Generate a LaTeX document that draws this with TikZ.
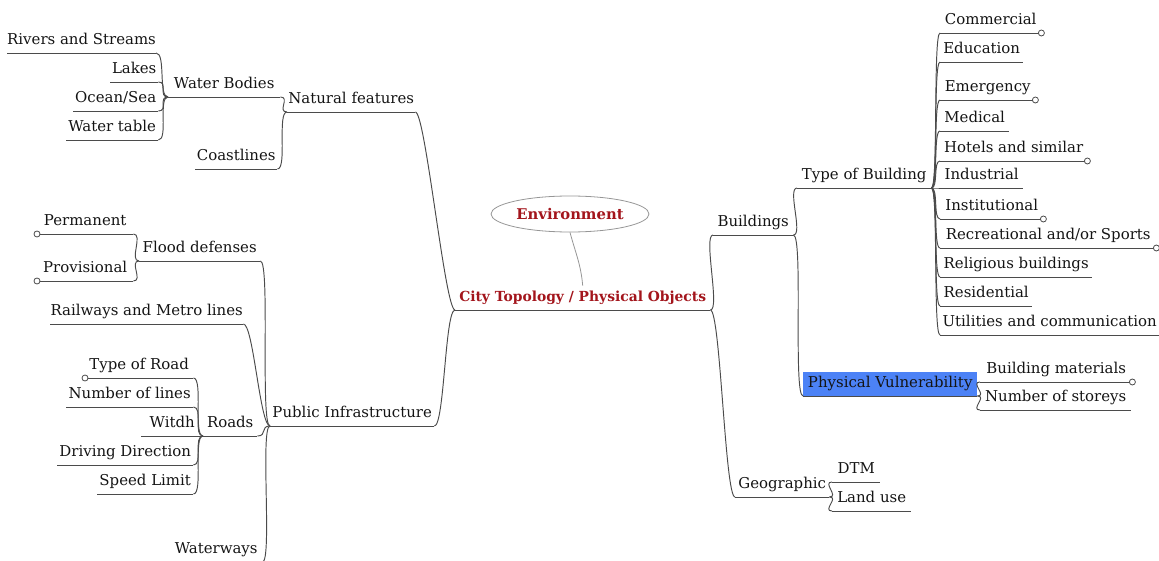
\documentclass[tikz,border=0pt]{standalone}
\usepackage{fontspec}
\setmainfont{DejaVu Serif}
\newfontfamily\mapfont{DejaVu Serif}[Scale=0.83]
\usetikzlibrary{shapes.geometric}
\definecolor{linec}{RGB}{75,75,75}
\definecolor{txtc}{RGB}{20,20,20}
\definecolor{redc}{RGB}{163,21,28}
\definecolor{bluec}{RGB}{76,130,246}
\definecolor{envc}{RGB}{150,150,150}
\begin{document}
\begin{tikzpicture}[x=1pt,y=-1pt,
  every node/.style={font=\mapfont\fontsize{18}{20}\selectfont, text=txtc},
  item/.style={anchor=south west, inner xsep=0pt, inner ysep=3pt, text height=13pt, text depth=5pt, minimum width=#1,
    append after command={(\tikzlastnode.south west) edge[draw=linec,line width=0.95pt] (\tikzlastnode.south east)}},
  dot/.style={circle, draw=linec, fill=white, line width=0.8pt, inner sep=0pt, minimum size=6pt},
  dotE/.style={append after command={(\tikzlastnode.south east) node[dot]{}}},
  dotW/.style={append after command={(\tikzlastnode.south west) node[dot]{}}},
  conn/.style={draw=linec, line width=0.95pt, to path={.. controls +(#1,0) and +(-#1,0) .. (\tikztotarget)}},
  conn/.default=10
]
\useasboundingbox (0,0) rectangle (1159,561);

% centre
\node[item=255, font=\mapfont\bfseries\fontsize{16.7}{20}\selectfont, text=redc] (center) at (455,310) {City Topology / Physical Objects};
\node[ellipse, draw=envc, line width=0.8pt, minimum width=158, minimum height=36, inner sep=0pt,
      font=\mapfont\bfseries\fontsize{17.8}{20}\selectfont, text=redc] (env) at (570,214) {Environment};
\draw[envc, line width=0.8pt] (env.south) to[out=-75,in=95] (center.north);

% left: natural features
\node[item=128] (nat) at (287,112) {Natural features};
\node[item=112] (wb) at (168,97) {Water Bodies};
\node[item=82] (coast) at (195,169) {Coastlines};
\node[item=148] (rivers) at (7,53) {Rivers and Streams};
\node[item=48] (lakes) at (110,82) {Lakes};
\node[item=85] (ocean) at (73,111) {Ocean/Sea};
\node[item=92] (wtable) at (66,140) {Water table};

% left: public infrastructure
\node[item=164] (pub) at (270,426) {Public Infrastructure};
\node[item=121] (flood) at (139,261) {Flood defenses};
\node[item=96, dotW] (perm) at (37,234) {Permanent};
\node[item=96, dotW] (prov) at (37,281) {Provisional};
\node[item=193] (rail) at (50,324) {Railways and Metro lines};
\node[item=54] (roads) at (203,436) {Roads};
\node[item=108, dotW] (troad) at (85,378) {Type of Road};
\node[item=127] (nlines) at (66,407) {Number of lines};
\node[item=62] (witdh) at (141,436) {Witdh};
\node[item=136] (drive) at (57,465) {Driving Direction};
\node[item=96] (speed) at (97,494) {Speed Limit};
\node[item=92] (waterw) at (170,562) {Waterways};

% right: buildings
\node[item=80] (build) at (713,235) {Buildings};
\node[item=134] (typeb) at (797,188) {Type of Building};
\node[item=101, dotE] (comm) at (940,33) {Commercial};
\node[item=83] (edu) at (940,62) {Education};
\node[item=95, dotE] (emerg) at (940,100) {Emergency};
\node[item=69] (med) at (940,131) {Medical};
\node[item=147, dotE] (hotel) at (940,161) {Hotels and similar};
\node[item=83] (indus) at (940,188) {Industrial};
\node[item=103, dotE] (instit) at (940,219) {Institutional};
\node[item=216, dotE] (recr) at (940,248) {Recreational and/or Sports};
\node[item=152] (relig) at (940,277) {Religious buildings};
\node[item=92] (resid) at (940,306) {Residential};
\node[item=219] (util) at (940,335) {Utilities and communication};
\node[item=174, fill=bluec] (pvul) at (803,396) {Physical Vulnerability};
\node[item=152, dotE] (bmat) at (980,382) {Building materials};
\node[item=151] (nstor) at (980,410) {Number of storeys};

% right: geographic
\node[item=94] (geo) at (735,497) {Geographic};
\node[item=48] (dtm) at (832,482) {DTM};
\node[item=79] (land) at (832,511) {Land use};

% connectors, left side (child east -> parent west)
\draw[conn] (nat.south east) to (center.south west);
\draw[conn] (pub.south east) to (center.south west);
\draw[conn] (wb.south east) to (nat.south west);
\draw[conn] (coast.south east) to (nat.south west);
\draw[conn] (rivers.south east) to (wb.south west);
\draw[conn] (lakes.south east) to (wb.south west);
\draw[conn] (ocean.south east) to (wb.south west);
\draw[conn] (wtable.south east) to (wb.south west);
\draw[conn] (flood.south east) to (pub.south west);
\draw[conn] (rail.south east) to (pub.south west);
\draw[conn] (roads.south east) to (pub.south west);
\draw[conn] (waterw.south east) to (pub.south west);
\draw[conn] (perm.south east) to (flood.south west);
\draw[conn] (prov.south east) to (flood.south west);
\draw[conn] (troad.south east) to (roads.south west);
\draw[conn] (nlines.south east) to (roads.south west);
\draw[conn] (witdh.south east) to (roads.south west);
\draw[conn] (drive.south east) to (roads.south west);
\draw[conn] (speed.south east) to (roads.south west);

% connectors, right side (parent east -> child west)
\draw[conn] (center.south east) to (build.south west);
\draw[conn] (center.south east) to (geo.south west);
\draw[conn] (build.south east) to (typeb.south west);
\draw[conn] (build.south east) to (pvul.south west);
\foreach \n in {comm,edu,emerg,med,hotel,indus,instit,recr,relig,resid,util}
  \draw[conn=7] (typeb.south east) to (\n.south west);
\draw[conn] (pvul.south east) to (bmat.south west);
\draw[conn] (pvul.south east) to (nstor.south west);
\draw[conn] (geo.south east) to (dtm.south west);
\draw[conn] (geo.south east) to (land.south west);
\end{tikzpicture}
\end{document}
